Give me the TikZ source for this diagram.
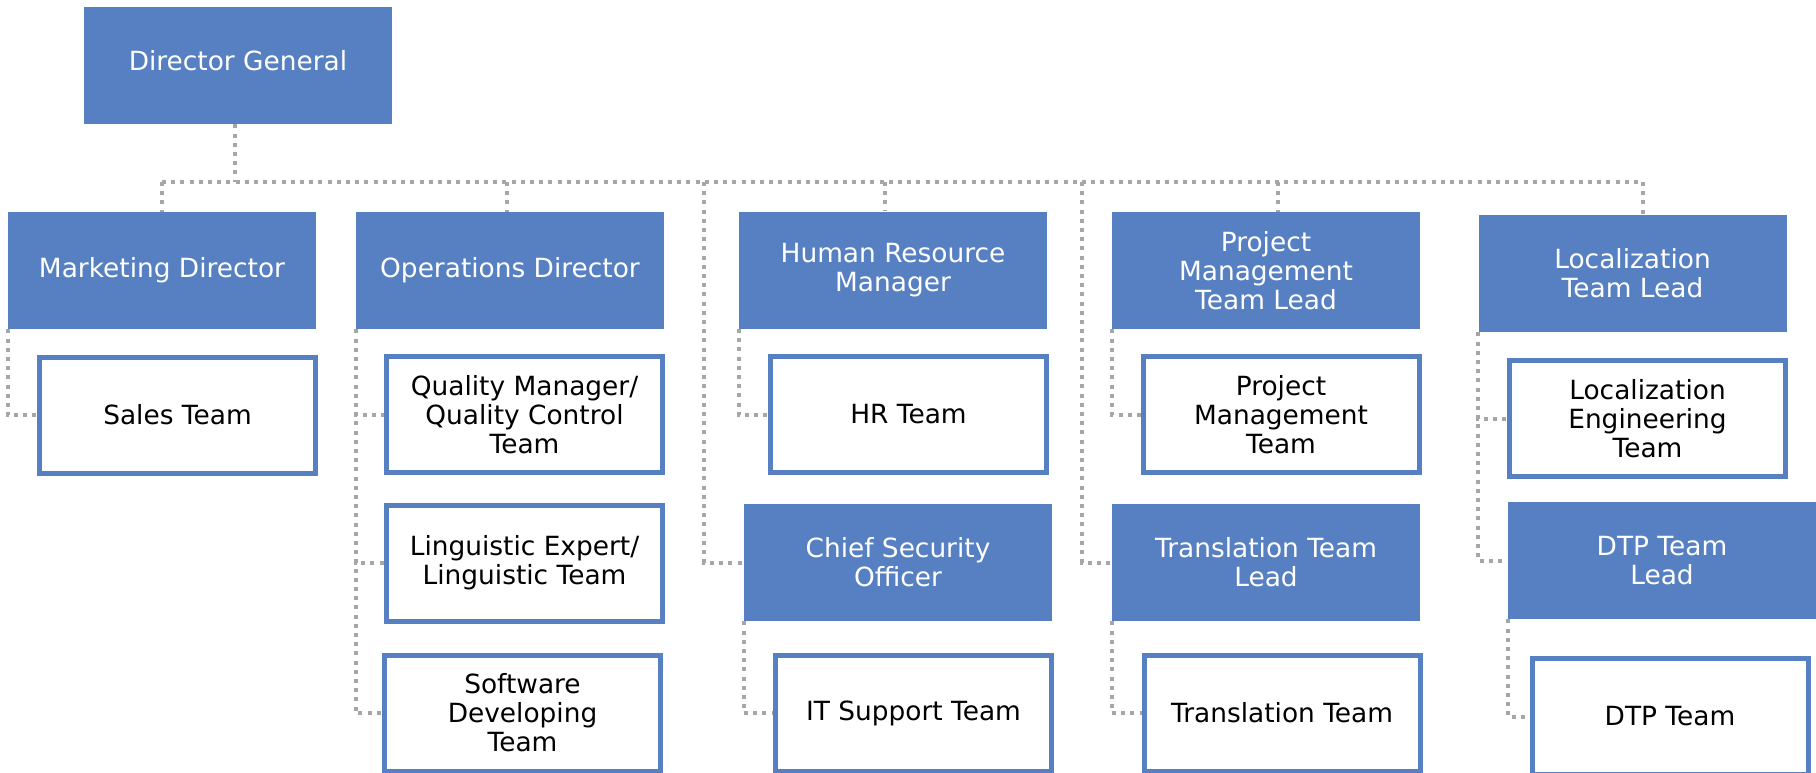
\documentclass[tikz,border=0pt]{standalone}
\usepackage{fontspec}
\setmainfont{DejaVu Sans}
\definecolor{chart}{HTML}{5680C2}
\definecolor{wire}{HTML}{A6A6A6}

\begin{document}
\begin{tikzpicture}[x=0.5pt, y=-0.5pt,
    lead/.style={fill=chart, text=white, minimum width=154pt, minimum height=58.5pt,
      inner sep=0pt, align=center, font=\fontsize{13.2pt}{14.5pt}\selectfont},
    team/.style={draw=chart, line width=2.5pt, fill=white, minimum width=138pt, minimum height=58pt,
      inner sep=0pt, align=center, font=\fontsize{13.2pt}{14.5pt}\selectfont},
    link/.style={wire, line width=2pt, dash pattern=on 2pt off 2.6pt}]
  \useasboundingbox (0,0) rectangle (1816,772);
  % filled boxes
  \node[lead, text depth=5pt] (dg) at (238,65.5) {Director General};
  \foreach \n/\x/\y/\t in {mkt/162/270.5/{Marketing Director},
      ops/510/270.5/{Operations Director}, hrm/893/270/{Human Resource\\Manager},
      pml/1266/270.5/{Project\\Management\\Team Lead}, locl/1632.5/273.5/{Localization\\Team Lead},
      cso/898/562.5/{Chief Security\\Officer}, ttl/1266/562.5/{Translation Team\\Lead},
      dtpl/1662/560.5/{DTP Team\\Lead}} {
    \node[lead] (\n) at (\x,\y) {\t};
  }
  % outlined boxes
  \foreach \n/\x/\y/\t in {sales/177.5/415/{Sales Team}, qm/524.5/414.5/{Quality Manager/\\Quality Control\\Team},
      le/524.5/563/{Linguistic Expert/\\Linguistic Team}, sd/522.5/713/{Software\\Developing\\Team},
      hrt/908.5/414.5/{HR Team}, its/913.5/713/{IT Support Team},
      pmt/1281/414.5/{Project\\Management\\Team}, trt/1282/713/{Translation Team},
      loce/1647.5/418.5/{Localization\\Engineering\\Team}, dtpt/1670/716.5/{DTP Team}} {
    \node[team] (\n) at (\x,\y) {\t};
  }
  % bus and drops
  \coordinate (bus) at (0,182);
  \coordinate (csotap) at (704,182);
  \coordinate (ttltap) at (1082,182);
  \foreach \n/\s in {mkt/0, ops/-1.5, hrm/-4, pml/6, locl/5} {
    \path ([xshift=\s pt]\n.north) coordinate (t\n);
  }
  \path ([xshift=-1.5pt]dg.south) coordinate (bdg);
  \draw[link] (bdg) -- (bdg |- bus);
  \draw[link] (tmkt |- bus) -- (tlocl |- bus);
  \foreach \n in {mkt, ops, hrm, pml, locl}
    \draw[link] (t\n |- bus) -- (t\n);
  \draw[link] (csotap) |- (cso.west);
  \draw[link] (ttltap) |- (ttl.west);
  % side connectors
  \foreach \p/\c in {mkt/sales, ops/qm, ops/le, ops/sd, hrm/hrt, cso/its,
      pml/pmt, ttl/trt, locl/loce, locl/dtpl, dtpl/dtpt}
    \draw[link] (\p.south west) |- (\c.west);
\end{tikzpicture}
\end{document}
